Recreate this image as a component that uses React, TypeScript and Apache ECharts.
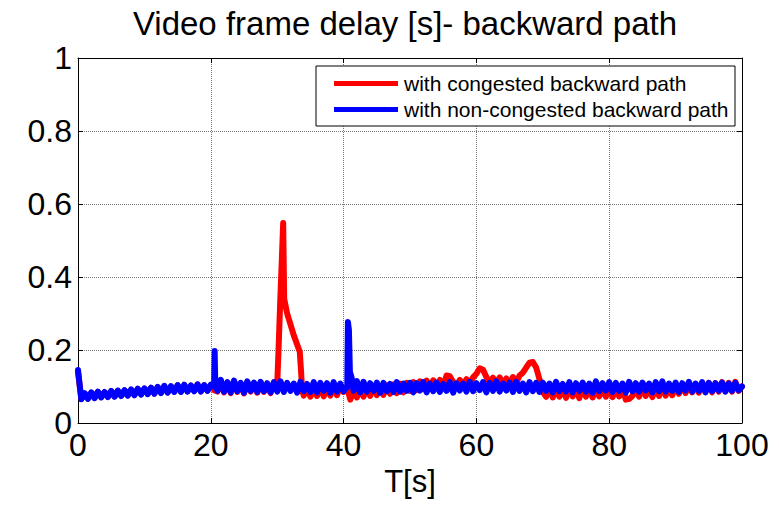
import React, { useEffect, useRef } from "react";
import * as echarts from "echarts";

// sample spacing of the base records (seconds)
const STEP = 0.5;

// blue: with non-congested backward path, t = 0..100 every 0.5 s
const blueBase: number[] = [
  0.145, 0.065, 0.082, 0.066, 0.084, 0.068, 0.086, 0.07, 0.085, 0.071, 0.088, 0.072, 0.089, 0.074, 0.09, 0.075, 0.092, 0.076, 0.094, 0.078,
  0.095, 0.079, 0.097, 0.08, 0.099, 0.082, 0.102, 0.083, 0.101, 0.085, 0.104, 0.085, 0.105, 0.086, 0.103, 0.087, 0.106, 0.086, 0.104, 0.088,
  0.105, 0.1, 0.088, 0.118, 0.086, 0.112, 0.084, 0.116, 0.087, 0.11, 0.083, 0.114, 0.088, 0.111, 0.085, 0.113, 0.087, 0.109, 0.084, 0.112,
  0.086, 0.114, 0.085, 0.11, 0.088, 0.108, 0.083, 0.113, 0.087, 0.107, 0.085, 0.112, 0.084, 0.11, 0.088, 0.109, 0.083, 0.112, 0.086, 0.108,
  0.087, 0.1, 0.1, 0.088, 0.115, 0.084, 0.113, 0.086, 0.109, 0.088, 0.111, 0.083, 0.11, 0.087, 0.107, 0.085, 0.112, 0.086, 0.108, 0.088,
  0.11, 0.084, 0.109, 0.089, 0.112, 0.084, 0.108, 0.087, 0.111, 0.085, 0.107, 0.088, 0.112, 0.083, 0.109, 0.089, 0.108, 0.086, 0.113, 0.087,
  0.109, 0.09, 0.112, 0.084, 0.11, 0.088, 0.114, 0.086, 0.108, 0.089, 0.111, 0.085, 0.113, 0.088, 0.108, 0.084, 0.112, 0.087, 0.11, 0.085,
  0.111, 0.088, 0.108, 0.084, 0.113, 0.087, 0.107, 0.086, 0.112, 0.084, 0.109, 0.088, 0.111, 0.086, 0.108, 0.083, 0.114, 0.087, 0.109, 0.089,
  0.112, 0.085, 0.11, 0.088, 0.108, 0.083, 0.113, 0.087, 0.109, 0.086, 0.111, 0.089, 0.108, 0.084, 0.112, 0.087, 0.114, 0.086, 0.108, 0.088,
  0.111, 0.085, 0.109, 0.089, 0.113, 0.086, 0.108, 0.088, 0.112, 0.084, 0.11, 0.087, 0.109, 0.089, 0.111, 0.086, 0.108, 0.088, 0.11, 0.09,
  0.1,
];

// short events of the blue record, [t, value]
const blueSpikeA: number[][] = [
  [20.5, 0.1], [20.58, 0.197], [20.68, 0.1],
];
const blueSpikeB: number[][] = [
  [40.55, 0.098], [40.65, 0.277], [40.8, 0.255], [40.95, 0.14], [41.2, 0.125],
];

// red: with congested backward path, t = 0..100 every 0.5 s
const redBase: number[] = [
  0.14, 0.066, 0.08, 0.068, 0.083, 0.069, 0.085, 0.071, 0.084, 0.072, 0.087, 0.073, 0.088, 0.075, 0.089, 0.076, 0.091, 0.077, 0.093, 0.079,
  0.094, 0.08, 0.096, 0.081, 0.098, 0.083, 0.1, 0.084, 0.1, 0.086, 0.103, 0.086, 0.104, 0.087, 0.102, 0.088, 0.105, 0.087, 0.103, 0.089,
  0.104, 0.09, 0.086, 0.116, 0.084, 0.11, 0.082, 0.114, 0.085, 0.108, 0.081, 0.112, 0.086, 0.109, 0.083, 0.111, 0.085, 0.107, 0.082, 0.11,
  0.1, 0.1, 0.1, 0.1, 0.1, 0.1, 0.1, 0.1, 0.075, 0.098, 0.072, 0.096, 0.074, 0.099, 0.073, 0.097, 0.075, 0.1, 0.076, 0.101,
  0.085, 0.1, 0.064, 0.09, 0.07, 0.094, 0.072, 0.097, 0.074, 0.1, 0.076, 0.102, 0.077, 0.104, 0.08, 0.106, 0.082, 0.108, 0.084, 0.11,
  0.088, 0.112, 0.09, 0.114, 0.093, 0.116, 0.096, 0.117, 0.098, 0.118, 0.1, 0.13, 0.128, 0.112, 0.1, 0.118, 0.104, 0.12, 0.11, 0.125,
  0.135, 0.15, 0.146, 0.126, 0.11, 0.124, 0.108, 0.125, 0.106, 0.122, 0.105, 0.126, 0.11, 0.13, 0.138, 0.152, 0.165, 0.167, 0.152, 0.12,
  0.085, 0.072, 0.098, 0.07, 0.095, 0.072, 0.097, 0.069, 0.096, 0.073, 0.094, 0.068, 0.097, 0.072, 0.095, 0.07, 0.098, 0.073, 0.094, 0.072,
  0.097, 0.071, 0.095, 0.073, 0.098, 0.064, 0.066, 0.074, 0.096, 0.072, 0.098, 0.074, 0.097, 0.071, 0.099, 0.074, 0.1, 0.075, 0.098, 0.076,
  0.102, 0.08, 0.104, 0.082, 0.106, 0.084, 0.107, 0.083, 0.108, 0.085, 0.11, 0.084, 0.109, 0.086, 0.112, 0.087, 0.11, 0.086, 0.113, 0.088,
  0.1,
];

// the congestion event of the red record, [t, value]
const redSpike: number[][] = [
  [30.0, 0.105], [30.2, 0.2], [30.45, 0.33], [30.7, 0.45], [30.9, 0.548], [31.05, 0.34],
  [31.5, 0.3], [32.0, 0.27], [32.5, 0.24], [33.0, 0.215], [33.4, 0.195], [33.6, 0.14], [33.75, 0.09],
];

const seriesNames = ["with congested backward path", "with non-congested backward path"];
const xTicks = [0, 20, 40, 60, 80, 100];
const yTicks = [0, 0.2, 0.4, 0.6, 0.8, 1];

function build(base: number[], events: number[][][]): number[][] {
  let pts: number[][] = base.map((v, i) => [i * STEP, v]);
  for (const ev of events) {
    const lo = ev[0][0];
    const hi = ev[ev.length - 1][0];
    pts = pts.filter((p) => p[0] < lo || p[0] > hi).concat(ev);
  }
  return pts.sort((a, b) => a[0] - b[0]);
}

const FONT = "'Liberation Sans', Arial, sans-serif";

export default function App() {
  const ref = useRef<HTMLDivElement>(null);
  useEffect(() => {
    if (!ref.current) return;
    const chart = echarts.init(ref.current, undefined, { renderer: "svg" });
    const xMin = xTicks[0];
    const xMax = xTicks[xTicks.length - 1];
    const xInt = xTicks[1] - xTicks[0];
    const yMin = yTicks[0];
    const yMax = yTicks[yTicks.length - 1];
    const yInt = 0.2;
    const fmt = (v: number) => String(Math.round(v * 10) / 10);
    const lineW = 6;
    chart.setOption({
      animation: false,
      backgroundColor: "#ffffff",
      title: {
        text: "Video frame delay [s]- backward path",
        left: 400,
        top: 2,
        textAlign: "center",
        textStyle: { fontFamily: FONT, fontSize: 33, fontWeight: "normal", color: "#000" },
      },
      grid: { left: 78, top: 58, right: 37, bottom: 82, containLabel: false },
      legend: {
        data: seriesNames,
        orient: "vertical",
        left: 329,
        top: 68,
        icon: "rect",
        itemWidth: 64,
        itemHeight: 5,
        itemGap: 5,
        z: 10,
        textStyle: { fontFamily: FONT, fontSize: 21, color: "#000", padding: [0, 0, 0, 1] },
      },
      graphic: [
        {
          type: "rect",
          z: 5,
          shape: { x: 316, y: 66, width: 419, height: 60 },
          style: { fill: "#fff", stroke: "#000", lineWidth: 1 },
        },
      ],
      xAxis: [
        {
          type: "value",
          min: xMin,
          max: xMax,
          interval: xInt,
          position: "bottom",
          name: "T[s]",
          nameLocation: "middle",
          nameGap: 40,
          nameTextStyle: { fontFamily: FONT, fontSize: 31, color: "#000" },
          axisLine: { onZero: false, lineStyle: { color: "#000", width: 1 } },
          axisTick: { inside: true, length: 5, lineStyle: { color: "#000" } },
          axisLabel: { fontFamily: FONT, fontSize: 32, color: "#000", margin: 6 },
          splitLine: { show: true, lineStyle: { color: "#777", type: "dotted", width: 1 } },
        },
        {
          type: "value",
          min: xMin,
          max: xMax,
          interval: xInt,
          position: "top",
          axisLine: { onZero: false, lineStyle: { color: "#000", width: 1 } },
          axisTick: { inside: true, length: 5, lineStyle: { color: "#000" } },
          axisLabel: { show: false },
          splitLine: { show: false },
        },
      ],
      yAxis: [
        {
          type: "value",
          min: yMin,
          max: yMax,
          interval: yInt,
          position: "left",
          axisLine: { show: true, onZero: false, lineStyle: { color: "#000", width: 1 } },
          axisTick: { show: true, inside: true, length: 5, lineStyle: { color: "#000" } },
          axisLabel: { fontFamily: FONT, fontSize: 32, color: "#000", margin: 6, formatter: fmt },
          splitLine: { show: true, lineStyle: { color: "#777", type: "dotted", width: 1 } },
        },
        {
          type: "value",
          min: yMin,
          max: yMax,
          interval: yInt,
          position: "right",
          axisLine: { show: true, onZero: false, lineStyle: { color: "#000", width: 1 } },
          axisTick: { show: true, inside: true, length: 5, lineStyle: { color: "#000" } },
          axisLabel: { show: false },
          splitLine: { show: false },
        },
      ],
      series: [
        {
          name: seriesNames[0],
          type: "line",
          data: build(redBase, [redSpike]),
          showSymbol: false,
          symbol: "none",
          color: "#ff0000",
          lineStyle: { color: "#ff0000", width: lineW, join: "round", cap: "round" },
          z: 2,
        },
        {
          name: seriesNames[1],
          type: "line",
          data: build(blueBase, [blueSpikeA, blueSpikeB]),
          showSymbol: false,
          symbol: "none",
          color: "#0000ff",
          lineStyle: { color: "#0000ff", width: lineW, join: "round", cap: "round" },
          z: 3,
        },
      ],
    });
    return () => chart.dispose();
  }, []);
  return (
    <div
      ref={ref}
      style={{ position: "fixed", left: 0, top: 0, width: 779, height: 505, background: "#fff" }}
    />
  );
}
